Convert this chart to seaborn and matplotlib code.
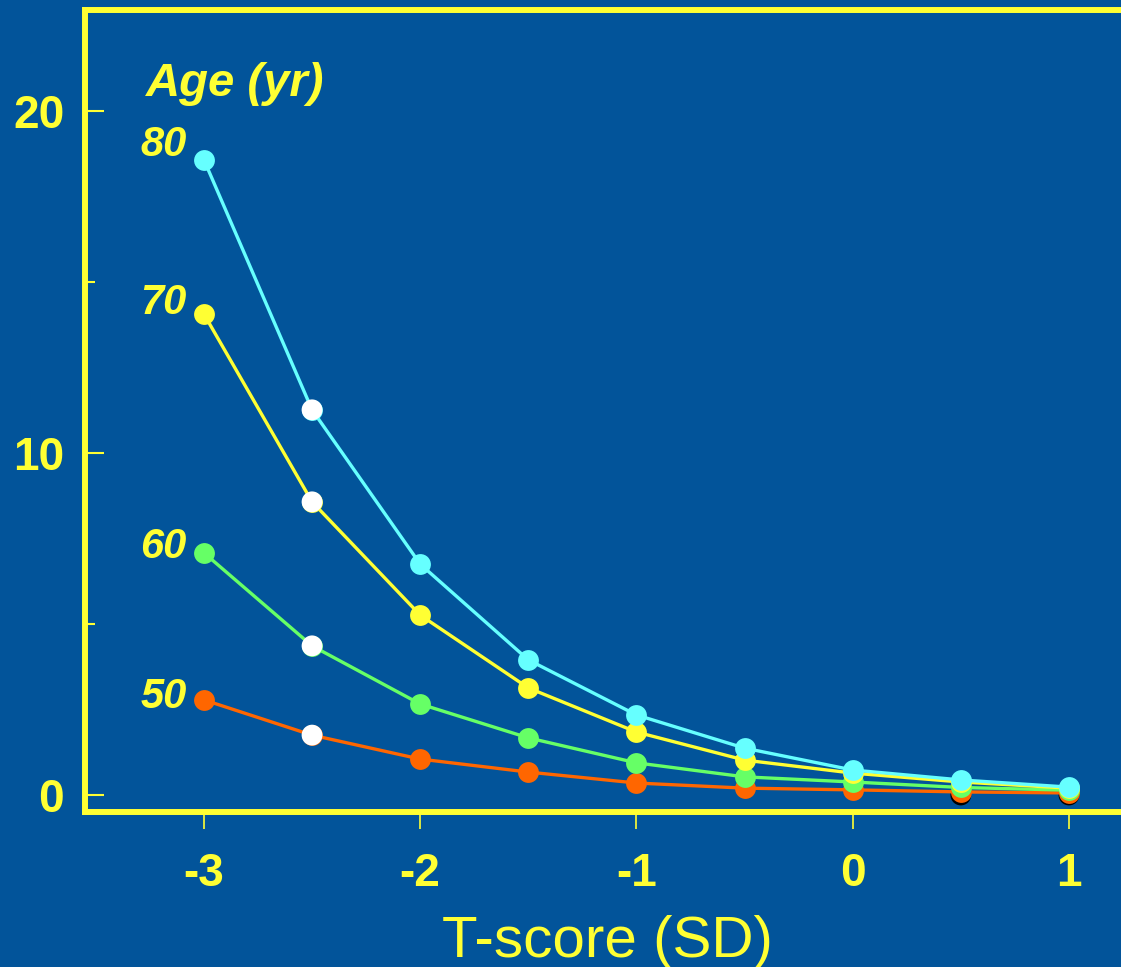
import matplotlib
matplotlib.use("Agg")
import matplotlib.pyplot as plt
import seaborn as sns
import pandas as pd
import numpy as np

# ---- data ----
t_scores = [-3, -2.5, -2, -1.5, -1, -0.5, 0, 0.5, 1]
age_50 = [2.78, 1.75, 1.05, 0.67, 0.35, 0.20, 0.15, 0.09, 0.06]
age_60 = [7.08, 4.36, 2.66, 1.67, 0.94, 0.53, 0.38, 0.22, 0.14]
age_70 = [14.06, 8.57, 5.26, 3.13, 1.84, 1.02, 0.64, 0.38, 0.20]
age_80 = [18.57, 11.26, 6.75, 3.95, 2.34, 1.37, 0.73, 0.44, 0.23]
ages = ["50", "60", "70", "80"]
label_y = [2.87, 7.25, 14.39, 19.0]
shadow_x = [0.5, 1]
shadow_y = [0.0, 0.0]
x_ticks = [-3, -2, -1, 0, 1]
y_ticks = [0, 10, 20]
y_minor = [5, 15]

BG = "#02549A"
YEL = "#FFFF33"
colors = {"50": "#FF6600", "60": "#66FF66", "70": "#FFFF33", "80": "#66FFFF"}

sns.set_theme(style="white")
plt.rcParams["font.family"] = ["Liberation Sans", "DejaVu Sans"]

df = pd.DataFrame({
    "T": t_scores * 4,
    "risk": age_50 + age_60 + age_70 + age_80,
    "age": sum([[a] * len(t_scores) for a in ages], []),
})

fig = plt.figure(figsize=(11.21, 9.67), dpi=100, facecolor=BG)
ax = fig.add_axes([0.0758, 0.1603, 0.9242, 0.8294])
ax.set_facecolor(BG)

MS = 15

# black shadow points
sns.scatterplot(x=shadow_x, y=shadow_y, ax=ax, color="black", s=MS ** 2,
                edgecolor="none", zorder=1, legend=False)

for a in ages:
    sub = df[df["age"] == a]
    sns.lineplot(data=sub, x="T", y="risk", ax=ax, color=colors[a], lw=2.4,
                 marker="o", markersize=MS, markeredgewidth=0, legend=False,
                 zorder=2, estimator=None, sort=False)
    w = sub[sub["T"] == -2.5]
    sns.scatterplot(data=w, x="T", y="risk", ax=ax, color="white", s=MS ** 2,
                    edgecolor="none", zorder=3, legend=False)

# series labels
for a, ly in zip(ages, label_y):
    ax.text(-3.08, ly, a, color=YEL, fontsize=30,
            fontweight="bold", fontstyle="italic", ha="right", va="center")
ax.text(-3.27, 20.8, "Age (yr)", color=YEL, fontsize=34, fontweight="bold",
        fontstyle="italic", ha="left", va="center")

ax.set_xlim(-3.55, 1.2405)
ax.set_ylim(-0.497, 22.95)

ax.set_xticks(x_ticks)
ax.set_xticklabels([str(v) for v in x_ticks])
ax.set_yticks(y_ticks)
ax.set_yticklabels([str(v) for v in y_ticks])
ax.set_yticks(y_minor, minor=True)

ax.tick_params(axis="x", direction="out", length=12, width=1.2, color=YEL,
               labelcolor=YEL, labelsize=33, pad=17, bottom=True)
ax.tick_params(axis="y", which="major", direction="in", length=14, width=1.5,
               color=YEL, labelcolor=YEL, labelsize=33, pad=15, left=True)
ax.tick_params(axis="y", which="minor", direction="in", length=7, width=1.5,
               color=YEL, left=True)
for lab in ax.get_xticklabels() + ax.get_yticklabels():
    lab.set_fontweight("bold")

for side in ["left", "top", "bottom"]:
    ax.spines[side].set_color(YEL)
    ax.spines[side].set_linewidth(4.3)
ax.spines["right"].set_visible(False)

ax.set_ylabel("")
ax.set_xlabel("T-score (SD)", color=YEL, fontsize=42, va="baseline")
ax.xaxis.set_label_coords(0.504, -0.1808)
ax.grid(False)

fig.savefig("out.png", dpi=100, facecolor=BG)
